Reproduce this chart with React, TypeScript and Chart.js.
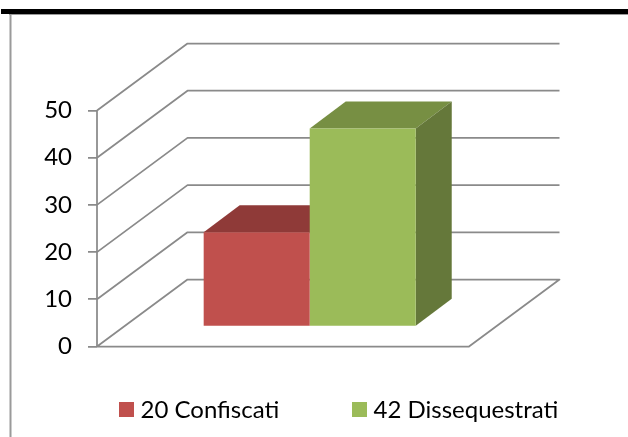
import React, { useEffect, useRef } from "react";
import { Chart, registerables, Plugin } from "chart.js";

Chart.register(...registerables);

const categories = [""];
const seriesNames = ["20 Confiscati", "42 Dissequestrati"];
const confiscati = [20];
const dissequestrati = [42];
const frontColors = ["#C0504D", "#9BBB59"];
const topColors = ["#8F3A38", "#778F43"];
const sideColors = ["#8A3230", "#65783A"];
const GRID = "#8A8A8A";
const FONT = "Lato, Carlito, Calibri, sans-serif";

// floor / wall projection
const WALL_DX = 90.5;
const WALL_DY = -67;
// position of the bars within the depth, and their own depth
const BAR_DX = 26.7;
const BAR_DY = -19.8;
const BAR_DEPTH_X = 36;
const BAR_DEPTH_Y = -27;

const legendItems = [
  { box: 119, text: 140.5 },
  { box: 352, text: 373.5 },
];

const poly = (ctx: CanvasRenderingContext2D, pts: number[][], fill: string) => {
  ctx.beginPath();
  pts.forEach(([x, y], i) => (i ? ctx.lineTo(x, y) : ctx.moveTo(x, y)));
  ctx.closePath();
  ctx.fillStyle = fill;
  ctx.fill();
};

const frame: Plugin = {
  id: "frame",
  beforeDraw(chart) {
    const { ctx, width, height } = chart;
    ctx.save();
    ctx.fillStyle = "#FFFFFF";
    ctx.fillRect(0, 0, width, height);
    ctx.fillStyle = "#000000";
    ctx.fillRect(1, 9, width, 5);
    ctx.fillStyle = "#9A9A9A";
    ctx.fillRect(9, 14, width, 1);
    ctx.fillRect(9.5, 14, 2, height);
    ctx.restore();
  },
};

const walls: Plugin = {
  id: "walls",
  beforeDatasetsDraw(chart) {
    const { ctx, chartArea } = chart;
    const yScale = chart.scales.y;
    ctx.save();
    ctx.strokeStyle = GRID;
    ctx.lineWidth = 1.75;
    ctx.lineJoin = "round";
    yScale.ticks.forEach((t) => {
      const y = yScale.getPixelForValue(t.value);
      ctx.beginPath();
      ctx.moveTo(chartArea.left, y);
      ctx.lineTo(chartArea.left + WALL_DX, y + WALL_DY);
      ctx.lineTo(chartArea.right + WALL_DX, y + WALL_DY);
      if (t.value === 0) {
        ctx.lineTo(chartArea.right, y);
        ctx.lineTo(chartArea.left, y);
      }
      ctx.stroke();
    });
    // vertical axis line
    ctx.beginPath();
    ctx.moveTo(chartArea.left, chartArea.top);
    ctx.lineTo(chartArea.left, chartArea.bottom);
    ctx.stroke();
    // 3D faces of each bar, then shift the library's bars into the depth
    chart.data.datasets.forEach((_, i) => {
      chart.getDatasetMeta(i).data.forEach((el: any) => {
        const l = el.x - el.width / 2 + BAR_DX;
        const r = el.x + el.width / 2 + BAR_DX;
        const t = el.y + BAR_DY;
        const b = el.base + BAR_DY;
        poly(ctx, [[l, t], [r, t], [r + BAR_DEPTH_X, t + BAR_DEPTH_Y], [l + BAR_DEPTH_X, t + BAR_DEPTH_Y]], topColors[i]);
        if (i === chart.data.datasets.length - 1) {
          poly(ctx, [[r, t], [r + BAR_DEPTH_X, t + BAR_DEPTH_Y], [r + BAR_DEPTH_X, b + BAR_DEPTH_Y], [r, b]], sideColors[i]);
        }
      });
    });
    ctx.restore();
    ctx.save();
    ctx.translate(BAR_DX, BAR_DY);
  },
  afterDatasetsDraw(chart) {
    chart.ctx.restore();
  },
};

const legend3d: Plugin = {
  id: "legend3d",
  afterDraw(chart) {
    const { ctx } = chart;
    ctx.save();
    ctx.font = `24px ${FONT}`;
    ctx.textBaseline = "alphabetic";
    chart.data.datasets.forEach((ds, i) => {
      const pos = legendItems[i];
      ctx.fillStyle = ds.backgroundColor as string;
      ctx.fillRect(pos.box, 402, 15, 15);
      ctx.fillStyle = "#000000";
      ctx.fillText(ds.label as string, pos.text, 417.5);
    });
    ctx.restore();
  },
};

export default function App() {
  const ref = useRef<HTMLCanvasElement>(null);
  useEffect(() => {
    document.body.style.margin = "0";
    const chart = new Chart(ref.current!, {
      type: "bar",
      data: {
        labels: categories,
        datasets: [
          { label: seriesNames[0], data: confiscati, backgroundColor: frontColors[0], clip: false } as any,
          { label: seriesNames[1], data: dissequestrati, backgroundColor: frontColors[1], clip: false } as any,
        ],
      },
      options: {
        animation: false,
        responsive: false,
        layout: { padding: { top: 110.5, bottom: 90.5, left: 0, right: 159 } },
        plugins: { legend: { display: false }, tooltip: { enabled: false }, title: { display: false } },
        datasets: { bar: { categoryPercentage: 0.57, barPercentage: 1 } },
        scales: {
          x: { display: false, type: "category" },
          y: {
            min: 0,
            max: 50,
            ticks: { stepSize: 10, color: "#000000", padding: 16, font: { family: FONT, size: 24 } },
            grid: { drawOnChartArea: false, drawTicks: true, tickLength: 9, color: GRID, lineWidth: 1.75 },
            border: { display: false },
            afterFit(scale: any) {
              scale.width = 97;
            },
          },
        },
      },
      plugins: [frame, walls, legend3d],
    });
    return () => chart.destroy();
  }, []);
  return <canvas ref={ref} width={628} height={437} style={{ display: "block" }} />;
}
